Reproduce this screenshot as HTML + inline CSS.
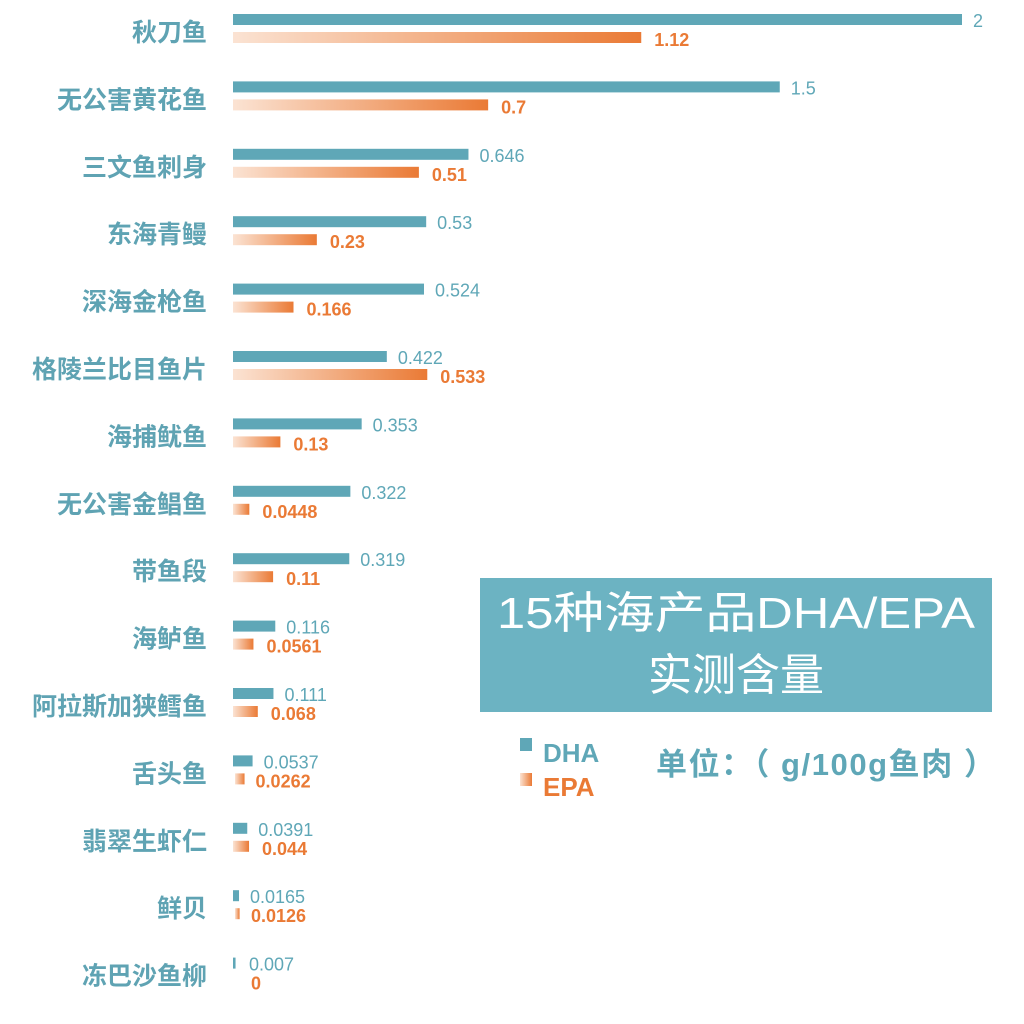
<!DOCTYPE html>
<html><head><meta charset="utf-8"><style>
body{margin:0;background:#fff;}
svg{display:block;font-family:"Liberation Sans","Noto Sans CJK SC",sans-serif;}
</style></head><body>
<svg id="chart" width="1024" height="1024">
<defs>
<linearGradient id="epaGrad" x1="0" x2="1" y1="0" y2="0">
<stop offset="0" stop-color="#fbe3d3"/><stop offset="1" stop-color="#ea7a35"/>
</linearGradient>
</defs>
<g id="bars"></g>
<rect x="480" y="578" width="512" height="134" fill="#6cb3c2"/>
<text x="736" y="628" text-anchor="middle" font-size="44" fill="#fff" textLength="478" lengthAdjust="spacingAndGlyphs">15种海产品DHA/EPA</text>
<text x="736" y="690" text-anchor="middle" font-size="44" fill="#fff">实测含量</text>
<rect x="520" y="738" width="12" height="13" fill="#5fa7b7"/>
<text x="543" y="762" font-size="26" font-weight="bold" fill="#5fa7b7">DHA</text>
<rect x="520" y="773" width="12" height="13" fill="url(#epaGrad)"/>
<text x="543" y="796" font-size="26" font-weight="bold" fill="#ea7a35">EPA</text>
<text x="656" y="775" font-size="31" font-weight="bold" fill="#5fa7b7" textLength="339" lengthAdjust="spacing">单位：（ g/100g鱼肉 ）</text>
</svg>
<script>
const categories=["秋刀鱼","无公害黄花鱼","三文鱼刺身","东海青鳗","深海金枪鱼","格陵兰比目鱼片","海捕鱿鱼","无公害金鲳鱼","带鱼段","海鲈鱼","阿拉斯加狭鳕鱼","舌头鱼","翡翠生虾仁","鲜贝","冻巴沙鱼柳"];
const dhaValues=[2,1.5,0.646,0.53,0.524,0.422,0.353,0.322,0.319,0.116,0.111,0.0537,0.0391,0.0165,0.007];
const epaValues=[1.12,0.7,0.51,0.23,0.166,0.533,0.13,0.0448,0.11,0.0561,0.068,0.0262,0.044,0.0126,0];
const dhaLabels=["2","1.5","0.646","0.53","0.524","0.422","0.353","0.322","0.319","0.116","0.111","0.0537","0.0391","0.0165","0.007"];
const epaLabels=["1.12","0.7","0.51","0.23","0.166","0.533","0.13","0.0448","0.11","0.0561","0.068","0.0262","0.044","0.0126","0"];
const NS="http://www.w3.org/2000/svg";
const x0=233, xs=v=>v*364.5;
const rowY=i=>14+i*67.4;
const g=document.getElementById('bars');
function mk(tag,attrs,txt){const e=document.createElementNS(NS,tag);for(const k in attrs)e.setAttribute(k,attrs[k]);if(txt!==undefined)e.textContent=txt;g.appendChild(e);return e;}
categories.forEach((c,i)=>{
  const y=rowY(i);
  const t=mk('text',{x:207,y:y+27,'text-anchor':'end','font-size':25,'font-weight':'bold',fill:'#5fa3b3'},c);
  
  
  const wd=Math.max(xs(dhaValues[i]),2);
  const b=mk('rect',{x:x0,y:y,width:wd,height:11,fill:'#5fa7b7'});
  
  
  const l=mk('text',{x:Math.max(x0+wd,x0+5)+11,y:y+13,'font-size':18,fill:'#5fa7b7'},dhaLabels[i]);
  
  
  const we=xs(epaValues[i]);
  if(we>0){
    const e=mk('rect',{x:x0+(we<10?2:0),y:y+18,width:we<10?Math.max(we,4):we,height:11,fill:'url(#epaGrad)'});
    
    
  }
  const el=mk('text',{x:Math.max(x0+we,x0+5)+13,y:y+32,'font-size':18,'font-weight':'bold',fill:'#ea7a35'},epaLabels[i]);
  
  
});
</script>
</body></html>
